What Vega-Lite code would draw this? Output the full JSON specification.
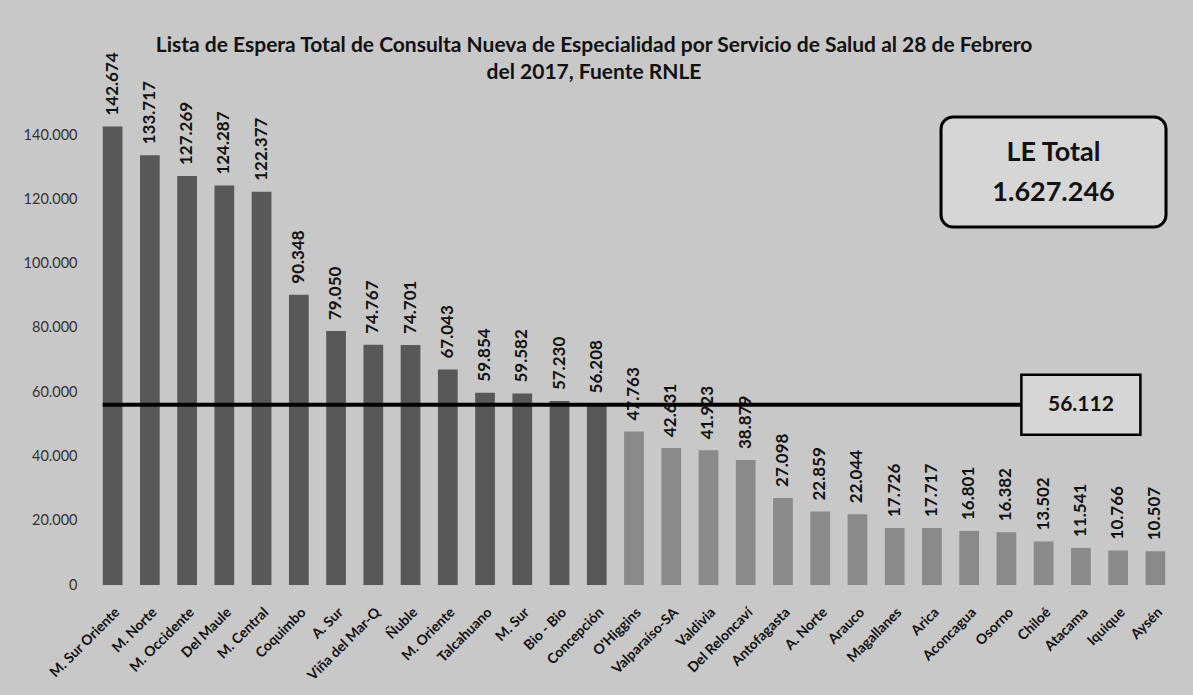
{
  "$schema": "https://vega.github.io/schema/vega-lite/v6.json",
  "width": 1080,
  "height": 482,
  "autosize": {"type": "none"},
  "padding": {"left": 94, "top": 103, "right": 19, "bottom": 110},
  "background": "#c8c8c8",
  "config": {
    "locale": {"number": {"decimal": ",", "thousands": ".", "grouping": [3], "currency": ["$", ""]}},
    "view": {"stroke": null},
    "font": "Lato"
  },
  "title": {
    "text": ["Lista de Espera Total de Consulta Nueva de Especialidad  por Servicio de Salud al 28 de Febrero", "del 2017, Fuente RNLE"],
    "font": "Lato",
    "fontSize": 21,
    "fontWeight": "bold",
    "color": "#111111",
    "anchor": "middle",
    "frame": "group",
    "dx": -40,
    "offset": -31,
    "lineHeight": 27
  },
  "datasets": {
    "servicios": [
      {"servicio": "M. Sur Oriente", "valor": 142674},
      {"servicio": "M. Norte", "valor": 133717},
      {"servicio": "M. Occidente", "valor": 127269},
      {"servicio": "Del Maule", "valor": 124287},
      {"servicio": "M. Central", "valor": 122377},
      {"servicio": "Coquimbo", "valor": 90348},
      {"servicio": "A. Sur", "valor": 79050},
      {"servicio": "Viña del Mar-Q", "valor": 74767},
      {"servicio": "Ñuble", "valor": 74701},
      {"servicio": "M. Oriente", "valor": 67043},
      {"servicio": "Talcahuano", "valor": 59854},
      {"servicio": "M. Sur", "valor": 59582},
      {"servicio": "Bio - Bio", "valor": 57230},
      {"servicio": "Concepción", "valor": 56208},
      {"servicio": "O'Higgins", "valor": 47763},
      {"servicio": "Valparaíso-SA", "valor": 42631},
      {"servicio": "Valdivia", "valor": 41923},
      {"servicio": "Del Reloncaví", "valor": 38879},
      {"servicio": "Antofagasta", "valor": 27098},
      {"servicio": "A. Norte", "valor": 22859},
      {"servicio": "Arauco", "valor": 22044},
      {"servicio": "Magallanes", "valor": 17726},
      {"servicio": "Arica", "valor": 17717},
      {"servicio": "Aconcagua", "valor": 16801},
      {"servicio": "Osorno", "valor": 16382},
      {"servicio": "Chiloé", "valor": 13502},
      {"servicio": "Atacama", "valor": 11541},
      {"servicio": "Iquique", "valor": 10766},
      {"servicio": "Aysén", "valor": 10507}
    ],
    "promedio": [{"promedio": 56112, "texto": "56.112"}],
    "total": [{"titulo": "LE Total", "total": "1.627.246"}]
  },
  "resolve": {"scale": {"x": "shared", "y": "shared"}},
  "layer": [
    {
      "data": {"name": "servicios"},
      "mark": {"type": "bar"},
      "encoding": {
        "x": {
          "field": "servicio",
          "type": "nominal",
          "sort": null,
          "scale": {
            "domain": ["M. Sur Oriente", "M. Norte", "M. Occidente", "Del Maule", "M. Central", "Coquimbo", "A. Sur", "Viña del Mar-Q", "Ñuble", "M. Oriente", "Talcahuano", "M. Sur", "Bio - Bio", "Concepción", "O'Higgins", "Valparaíso-SA", "Valdivia", "Del Reloncaví", "Antofagasta", "A. Norte", "Arauco", "Magallanes", "Arica", "Aconcagua", "Osorno", "Chiloé", "Atacama", "Iquique", "Aysén"],
            "paddingInner": 0.47,
            "paddingOuter": 0.235
          },
          "axis": {
            "title": null,
            "labelAngle": -45,
            "labelFont": "Lato",
            "labelFontWeight": "bold",
            "labelFontSize": 14,
            "labelColor": "#111111",
            "domain": false,
            "ticks": false,
            "labelPadding": 20
          }
        },
        "y": {
          "field": "valor",
          "type": "quantitative",
          "scale": {"domain": [0, 150000], "nice": false},
          "axis": {
            "title": null,
            "values": [0, 20000, 40000, 60000, 80000, 100000, 120000, 140000],
            "labelExpr": "format(datum.value, ',')",
            "labelFont": "Lato",
            "labelFontSize": 14.5,
            "labelColor": "#333333",
            "domain": false,
            "ticks": false,
            "grid": false,
            "labelPadding": 17
          }
        },
        "color": {"condition": {"test": "datum.valor > 56112", "value": "#585858"}, "value": "#8a8a8a"}
      }
    },
    {
      "data": {"name": "servicios"},
      "mark": {"type": "text", "angle": 270, "align": "left", "baseline": "middle", "dx": 11, "font": "Lato", "fontWeight": "bold", "fontSize": 17, "color": "#111111"},
      "encoding": {
        "x": {"field": "servicio", "type": "nominal", "sort": null},
        "y": {"field": "valor", "type": "quantitative"},
        "text": {"field": "valor", "type": "quantitative", "format": ","}
      }
    },
    {
      "data": {"name": "promedio"},
      "mark": {"type": "rule", "color": "#000000", "strokeWidth": 4},
      "encoding": {
        "x": {"datum": "M. Sur Oriente", "type": "nominal", "bandPosition": 0},
        "x2": {"datum": "Atacama"},
        "y": {"field": "promedio", "type": "quantitative"}
      }
    },
    {
      "data": {"name": "promedio"},
      "mark": {"type": "point", "shape": "M-1,-0.504H1V0.504H-1Z", "size": 14161, "filled": false, "fill": "#d6d6d6", "fillOpacity": 1, "stroke": "#000000", "strokeWidth": 2.5, "opacity": 1},
      "encoding": {
        "x": {"datum": "Atacama", "type": "nominal"},
        "y": {"field": "promedio", "type": "quantitative"}
      }
    },
    {
      "data": {"name": "promedio"},
      "mark": {"type": "text", "font": "Lato", "fontWeight": "bold", "fontSize": 21, "color": "#111111", "baseline": "middle", "align": "center"},
      "encoding": {
        "x": {"datum": "Atacama", "type": "nominal"},
        "y": {"field": "promedio", "type": "quantitative"},
        "text": {"field": "texto", "type": "nominal"}
      }
    },
    {
      "data": {"name": "total"},
      "mark": {"type": "point", "shape": "M-0.893,-0.489H0.893A0.107,0.107 0 0 1 1,-0.382V0.382A0.107,0.107 0 0 1 0.893,0.489H-0.893A0.107,0.107 0 0 1 -1,0.382V-0.382A0.107,0.107 0 0 1 -0.893,-0.489Z", "size": 50625, "filled": false, "fill": "#d6d6d6", "fillOpacity": 1, "stroke": "#000000", "strokeWidth": 3, "opacity": 1},
      "encoding": {
        "x": {"datum": "Chiloé", "type": "nominal", "bandPosition": 1},
        "y": {"datum": 128530, "type": "quantitative"}
      }
    },
    {
      "data": {"name": "total"},
      "mark": {"type": "text", "font": "Lato", "fontWeight": "bold", "fontSize": 27, "color": "#111111", "baseline": "middle", "align": "center"},
      "encoding": {
        "x": {"datum": "Chiloé", "type": "nominal", "bandPosition": 1},
        "y": {"datum": 134440, "type": "quantitative"},
        "text": {"field": "titulo", "type": "nominal"}
      }
    },
    {
      "data": {"name": "total"},
      "mark": {"type": "text", "font": "Lato", "fontWeight": "bold", "fontSize": 27, "color": "#111111", "baseline": "middle", "align": "center"},
      "encoding": {
        "x": {"datum": "Chiloé", "type": "nominal", "bandPosition": 1},
        "y": {"datum": 121990, "type": "quantitative"},
        "text": {"field": "total", "type": "nominal"}
      }
    }
  ]
}
